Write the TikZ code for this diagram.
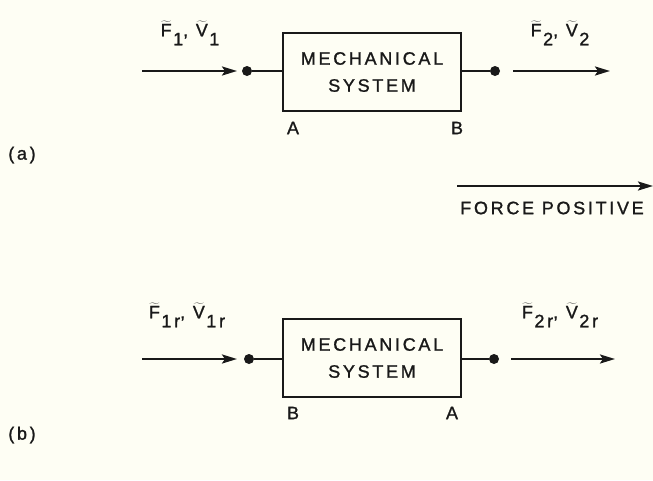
\documentclass[tikz,border=0pt]{standalone}
\usepackage{fontspec}
\setmainfont{Liberation Sans}[LetterSpace=15,FakeBold=1.2]
\usetikzlibrary{arrows.meta}
\definecolor{paper}{RGB}{254,254,244}
\definecolor{ink}{RGB}{25,25,25}
\newcommand{\tv}[2]{$\widetilde{\mbox{#1}}$\kern1.5pt\raisebox{-0.5em}{#2}}
\begin{document}
\begin{tikzpicture}[x=1pt,y=-1pt,
  every node/.style={text=ink,font=\fontsize{18}{27}\selectfont},
  conn/.style={draw=ink,line width=2.4pt},
  arr/.style={conn,-{Stealth[length=15pt,width=9pt,inset=3pt]}},
  sysbox/.style={draw=ink,line width=2.4pt,minimum width=178pt,minimum height=78pt,align=center,inner sep=0pt},
  dotn/.style={circle,fill=ink,inner sep=0pt,minimum size=10pt},
  lbl/.style={inner sep=0pt}]
\fill[paper] (0,0) rectangle (653,480);
\useasboundingbox (0,0) rectangle (653,480);
% (a)
\coordinate (ai) at (142,71);
\coordinate (aie) at (237,71);
\node[dotn] (ad1) at (247,71) {};
\node[sysbox] (asys) at (372,72) {MECHANICAL\\SYSTEM};
\node[dotn] (ad2) at (495,71) {};
\coordinate (ao) at (513,71);
\coordinate (aoe) at (610,71);
\draw[arr] (ai) -- (aie);
\draw[conn] (ad1) -- (ad1 -| asys.west);
\draw[conn] (asys.east |- ad2) -- (ad2);
\draw[arr] (ao) -- (aoe);
\node[lbl] (al1) at (190,33) {\tv{F}{1}, \tv{V}{1}};
\node[lbl] (al2) at (560,33) {\tv{F}{2}, \tv{V}{2}};
\node[lbl] (aA) at (293,128) {A};
\node[lbl] (aB) at (457,128) {B};
\node[lbl] (la) at (22,155) {(a)};
% force positive
\coordinate (fp1) at (457,186);
\coordinate (fp2) at (653,186);
\draw[arr] (fp1) -- (fp2);
\node[lbl] (fpt) at (552,208) {FORCE POSITIVE};
% (b)
\coordinate (bi) at (142,359);
\coordinate (bie) at (237,359);
\node[dotn] (bd1) at (249,359) {};
\node[sysbox] (bsys) at (372,358) {MECHANICAL\\SYSTEM};
\node[dotn] (bd2) at (494,359) {};
\coordinate (bo) at (511,359);
\coordinate (boe) at (615,359);
\draw[arr] (bi) -- (bie);
\draw[conn] (bd1) -- (bd1 -| bsys.west);
\draw[conn] (bsys.east |- bd2) -- (bd2);
\draw[arr] (bo) -- (boe);
\node[lbl] (bl1) at (187,315) {\tv{F}{1r}, \tv{V}{1r}};
\node[lbl] (bl2) at (560,315) {\tv{F}{2r}, \tv{V}{2r}};
\node[lbl] (bB) at (293,413) {B};
\node[lbl] (bA) at (452,413) {A};
\node[lbl] (lb) at (22,435) {(b)};
\end{tikzpicture}
\end{document}
